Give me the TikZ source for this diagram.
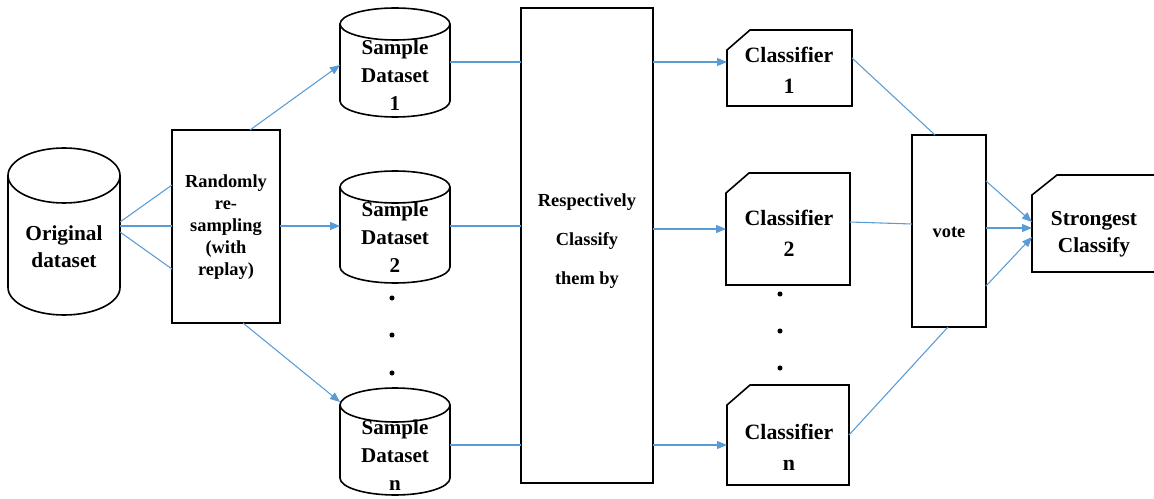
\documentclass[tikz,border=0pt]{standalone}
\usepackage{fontspec}
\setmainfont{Liberation Serif}
\usetikzlibrary{arrows.meta,calc,fit}
\definecolor{connblue}{RGB}{91,155,213}
\tikzset{
  frame/.style={draw=black, line width=1.2pt},
  conn/.style={draw=connblue, line width=0.8pt},
  arr/.style={conn, -{Triangle[length=7.5pt,width=6pt]}},
  area/.style={inner sep=0pt, outer sep=0pt},
  lbl/.style={align=center, inner sep=0pt},
  bigfont/.style={font=\bfseries\fontsize{16}{20.5}\selectfont},
  samfont/.style={font=\bfseries\fontsize{15.8}{21}\selectfont},
  clsfont/.style={font=\bfseries\fontsize{16.4}{23}\selectfont},
  smallfont/.style={font=\bfseries\fontsize{13.8}{16.5}\selectfont},
  respfont/.style={font=\bfseries\fontsize{13.8}{29}\selectfont},
  dotnode/.style={circle, fill=black, inner sep=0pt, minimum size=3.8pt},
}
\newcommand\mycyl[6]{% name, xl, xr, yt, yb, ry
  \node[area, fit={(#2,#4) (#3,#5)}] (#1) {};
  \pgfmathsetmacro\cycx{(#2+#3)/2}
  \pgfmathsetmacro\cyrx{(#3-#2)/2}
  \draw[frame] (\cycx,{#4+#6}) ellipse [x radius={\cyrx*0.75pt}, y radius={#6*0.75pt}];
  \draw[frame] (#2,{#4+#6}) -- (#2,{#5-#6})
    .. controls (#2,{#5-#6+0.5523*#6}) and ({\cycx-0.5523*\cyrx},#5) .. (\cycx,#5)
    .. controls ({\cycx+0.5523*\cyrx},#5) and (#3,{#5-#6+0.5523*#6}) .. (#3,{#5-#6})
    -- (#3,{#4+#6});
}
\newcommand\cutbox[5]{% name, xl, yt, xr, yb
  \node[area, fit={(#2,#3) (#4,#5)}] (#1) {};
  \draw[frame] (#1.south west) -- ($(#1.north west)+(0,20)$) -- ($(#1.north west)+(23,0)$)
    -- (#1.north east) -- (#1.south east) -- cycle;
}
\begin{document}
\begin{tikzpicture}[x=0.75pt,y=-0.75pt]
\useasboundingbox (0,0) rectangle (1154,499);

% cylinders
\mycyl{orig}{8}{120}{148}{315}{27.5}
\mycyl{s1}{340}{450}{8}{117}{16}
\mycyl{s2}{340}{450}{171}{283}{16}
\mycyl{sn}{340}{450}{388}{495}{17}

% boxes
\node[area, frame, fit={(172,130) (280,323)}] (rand) {};
\node[area, frame, fit={(521,8) (653,483)}] (resp) {};
\node[area, frame, fit={(912,135) (986,327)}] (vote) {};
\cutbox{c1}{727}{30}{852}{106}
\cutbox{c2}{726}{173}{850}{285}
\cutbox{cn}{727}{385}{849}{485}
\node[area, fit={(1032,175) (1154,272)}] (strong) {};
\draw[frame] ($(strong.north east)+(4,0)$) -- ($(strong.north west)+(25,0)$) -- ($(strong.north west)+(0,20)$)
  -- (strong.south west) -- ($(strong.south east)+(4,0)$);

% labels
\node[lbl, bigfont] (torig) at (64,247) {Original\\dataset};
\node[lbl, smallfont] (trand) at (226,227) {Randomly\\re-\\sampling\\(with\\replay)};
\node[lbl, samfont] (ts1) at (395,75) {Sample\\Dataset\\1};
\node[lbl, samfont] (ts2) at (395,237) {Sample\\Dataset\\2};
\node[lbl, samfont] (tsn) at (395,455) {Sample\\Dataset\\n};
\node[lbl, respfont] (tresp) at (587,241) {Respectively\\Classify\\them by};
\node[lbl, clsfont] (tc1) at (789,70) {Classifier\\1};
\node[lbl, clsfont] (tc2) at (789,233) {Classifier\\2};
\node[lbl, clsfont] (tcn) at (789,447) {Classifier\\n};
\node[lbl, smallfont] (tvote) at (949,232) {vote};
\node[lbl, bigfont] (tstrong) at (1094,234) {Strongest\\Classify};

% dots
\node[dotnode] (d1) at (392,298) {};
\node[dotnode] (d2) at (392,335) {};
\node[dotnode] (d3) at (392,373) {};
\node[dotnode] (e1) at (780,294) {};
\node[dotnode] (e2) at (780,331) {};
\node[dotnode] (e3) at (780,368) {};

% connectors
\draw[conn] ($(orig.north east)+(0,74)$) -- ($(rand.north west)+(0,55)$);
\draw[conn] ($(orig.north east)+(0,78)$) -- ($(rand.north west)+(0,96)$);
\draw[conn] ($(orig.north east)+(0,84)$) -- ($(rand.north west)+(0,139)$);

\draw[arr] ($(rand.north west)+(78,0)$) -- ($(s1.north west)+(0,57)$);
\draw[arr] ($(rand.north east)+(0,96)$) -- ($(s2.north west)+(0,55)$);
\draw[arr] ($(rand.south west)+(71,0)$) -- ($(sn.north west)+(0,14)$);

\draw[conn] ($(s1.north east)+(0,54)$) -- ($(resp.north west)+(0,54)$);
\draw[conn] ($(s2.north east)+(0,55)$) -- ($(resp.north west)+(0,218)$);
\draw[conn] ($(sn.north east)+(0,57)$) -- ($(resp.north west)+(0,437)$);

\draw[arr] ($(resp.north east)+(0,54)$) -- ($(c1.north west)+(0,32)$);
\draw[arr] ($(resp.north east)+(0,221)$) -- ($(c2.north west)+(0,56)$);
\draw[arr] ($(resp.north east)+(0,437)$) -- ($(cn.north west)+(0,60)$);

\draw[conn] ($(c1.north east)+(0,28)$) -- ($(vote.north west)+(23,0)$);
\draw[conn] ($(c2.north east)+(0,49)$) -- ($(vote.north west)+(0,89)$);
\draw[conn] ($(cn.north east)+(0,50)$) -- ($(vote.south west)+(36,0)$);

\draw[arr] ($(vote.north east)+(0,46)$) -- ($(strong.north west)+(0,47)$);
\draw[arr] ($(vote.north east)+(0,93)$) -- ($(strong.north west)+(0,53)$);
\draw[arr] ($(vote.north east)+(0,151)$) -- ($(strong.north west)+(0,62)$);
\end{tikzpicture}
\end{document}
